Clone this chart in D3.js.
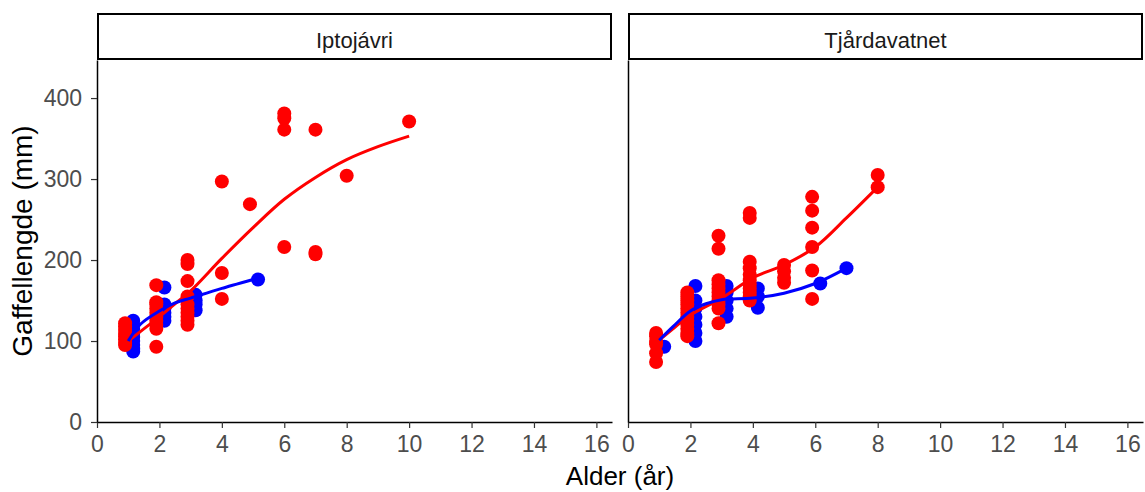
<!DOCTYPE html>
<html>
<head>
<meta charset="utf-8">
<script src="https://cdn.jsdelivr.net/npm/d3@7"></script>
<style>
  body { margin: 0; background: #fff; }
  text { font-family: "Liberation Sans", Arial, sans-serif; }
</style>
</head>
<body>
<svg width="1145" height="492"></svg>
<script>
// lakes (facets)
var lakes = ["Iptojávri", "Tjårdavatnet"];
var xTicks = [0, 2, 4, 6, 8, 10, 12, 14, 16];
var yTicks = [0, 100, 200, 300, 400];

// points: [age, length] per lake and sex
var iptoF = [
  [1,122],[1,118],[1,114],[1,110],[1,106],[1,102],[1,98],[1,95],
  [2,169],[2,148],[2,145],[2,140],[2,135],[2,130],[2,125],[2,120],[2,115],[2,93],
  [3,200],[3,195],[3,174],[3,155],[3,145],[3,140],[3,135],[3,130],[3,125],[3,120],
  [4,297],[4,184],[4,152],
  [5,269],
  [6,381],[6,375],[6,361],[6,216],
  [7,361],[7,210],[7,207],
  [8,304],
  [10,371]
];
var iptoM = [
  [1,125],[1,120],[1,115],[1,110],[1,105],[1,100],[1,95],[1,90],[1,87],
  [2,166],[2,145],[2,140],[2,135],[2,130],[2,125],
  [3,157],[3,150],[3,145],[3,138],
  [5,176]
];
var tjarF = [
  [1,110],[1,106],[1,100],[1,96],[1,85],[1,74],
  [2,160],[2,155],[2,150],[2,145],[2,140],[2,135],[2,130],[2,125],[2,120],[2,115],[2,110],[2,106],
  [3,230],[3,214],[3,175],[3,170],[3,165],[3,160],[3,155],[3,150],[3,145],[3,140],[3,122],
  [4,258],[4,252],[4,198],[4,190],[4,182],[4,175],[4,170],[4,165],[4,160],[4,155],[4,150],
  [5,194],[5,186],[5,178],[5,172],
  [6,278],[6,261],[6,240],[6,216],[6,187],[6,152],
  [8,305],[8,290]
];
var tjarM = [
  [1,93],
  [2,168],[2,150],[2,140],[2,130],[2,120],[2,110],[2,100],
  [3,168],[3,160],[3,150],[3,140],[3,130],
  [4,165],[4,155],[4,141],
  [6,171],
  [7,190]
];

// smoothed curves
var iptoFLine = [[1,100],[1.5,115],[2,130],[2.5,146],[3,162],[4,202],[5,240],[6,275],[7,302],[8,324],[9,340],[10,353]];
var iptoMLine = [[1,100],[1.4,121],[2,137],[2.5,147],[3,153],[4,165],[5,176]];
var tjarFLine = [[1,101],[1.5,117],[2,132],[3,153],[4,178],[5,194],[6,216],[7,252],[8,290]];
var tjarMLine = [[1,101],[1.45,118],[2,137],[2.5,146],[3,151],[4,153],[5,159],[6,171],[7,190]];

var red = "#ff0000", blue = "#0000ff";
var panels = [
  { name: lakes[0], f: iptoF, m: iptoM, fl: iptoFLine, ml: iptoMLine, left: 97 },
  { name: lakes[1], f: tjarF, m: tjarM, fl: tjarFLine, ml: tjarMLine, left: 628 }
];

var panelW = 515, panelTop = 60, panelBottom = 422;
var svg = d3.select("svg");

var yScale = d3.scaleLinear().domain([0, 447]).range([panelBottom, panelTop]);

panels.forEach(function(p, i) {
  var xScale = d3.scaleLinear().domain([0, 16.5]).range([p.left, p.left + panelW]);
  var g = svg.append("g");

  // strip
  g.append("rect")
    .attr("x", p.left + 1).attr("y", 14)
    .attr("width", panelW - 2).attr("height", 45)
    .attr("fill", "#fff").attr("stroke", "#000").attr("stroke-width", 2);
  g.append("text")
    .attr("x", p.left + panelW / 2).attr("y", 48)
    .attr("text-anchor", "middle")
    .attr("font-size", "22px")
    .attr("fill", "#1a1a1a")
    .text(p.name);

  // dodge only where both sexes present at an age
  var fAges = new Set(p.f.map(function(d) { return d[0]; }));
  var mAges = new Set(p.m.map(function(d) { return d[0]; }));
  function both(a) { return fAges.has(a) && mAges.has(a); }

  var line = d3.line()
    .curve(d3.curveCatmullRom)
    .x(function(d) { return xScale(d[0]); })
    .y(function(d) { return yScale(d[1]); });

  // males then females then lines
  g.selectAll(".pm").data(p.m).enter().append("circle")
    .attr("cx", function(d) { return xScale(d[0] + (both(d[0]) ? 0.16 : 0)); })
    .attr("cy", function(d) { return yScale(d[1]); })
    .attr("r", 7).attr("fill", blue);
  g.selectAll(".pf").data(p.f).enter().append("circle")
    .attr("cx", function(d) { return xScale(d[0] - (both(d[0]) ? 0.1 : 0)); })
    .attr("cy", function(d) { return yScale(d[1]); })
    .attr("r", 7).attr("fill", red);

  g.append("path").datum(p.fl).attr("d", line)
    .attr("fill", "none").attr("stroke", red).attr("stroke-width", 3);
  g.append("path").datum(p.ml).attr("d", line)
    .attr("fill", "none").attr("stroke", blue).attr("stroke-width", 3);

  // x axis
  var xa = g.append("g")
    .attr("transform", "translate(0," + panelBottom + ")")
    .call(d3.axisBottom(xScale).tickValues(xTicks).tickSize(6).tickPadding(8).tickSizeOuter(0));
  xa.select(".domain").attr("stroke", "#000").attr("stroke-width", 1.5);
  xa.selectAll(".tick line").attr("stroke", "#333").attr("stroke-width", 1.2);
  xa.selectAll("text").attr("fill", "#4d4d4d").attr("font-size", "23px")
    .attr("font-family", "Liberation Sans, Arial, sans-serif");

  // y axis
  var ya = g.append("g")
    .attr("transform", "translate(" + p.left + ",0)")
    .call(d3.axisLeft(yScale).tickValues(yTicks).tickSize(i === 0 ? 6 : 0).tickPadding(9).tickSizeOuter(0));
  ya.select(".domain").attr("stroke", "#000").attr("stroke-width", 1.5);
  ya.selectAll(".tick line").attr("stroke", "#333").attr("stroke-width", 1.2);
  ya.selectAll("text").attr("fill", "#4d4d4d").attr("font-size", "23px")
    .attr("font-family", "Liberation Sans, Arial, sans-serif");
  if (i === 1) ya.selectAll("text").remove();
});

// axis titles
svg.append("text")
  .attr("x", 620).attr("y", 485)
  .attr("text-anchor", "middle")
  .attr("font-size", "26px")
  .text("Alder (år)");
svg.append("text")
  .attr("transform", "translate(32,241) rotate(-90)")
  .attr("text-anchor", "middle")
  .attr("font-size", "28px")
  .text("Gaffellengde (mm)");
</script>
</body>
</html>
